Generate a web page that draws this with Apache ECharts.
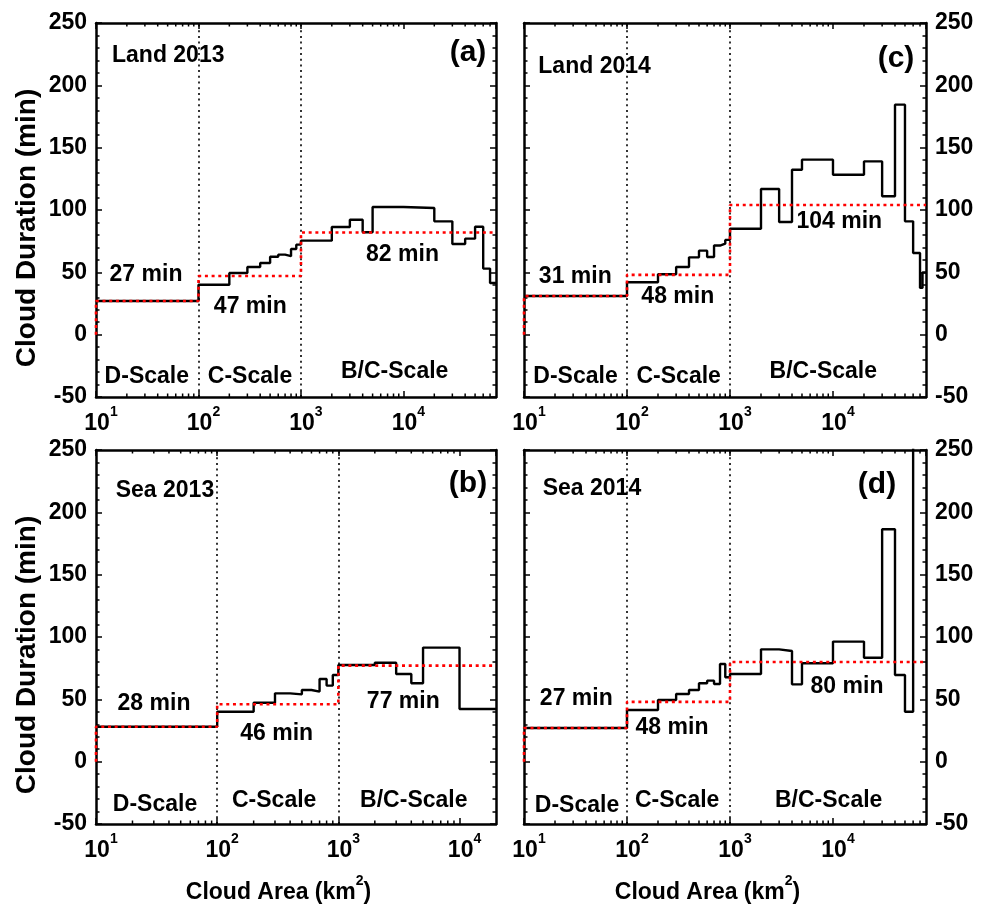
<!DOCTYPE html>
<html><head><meta charset="utf-8">
<script src="https://cdn.jsdelivr.net/npm/echarts@6/dist/echarts.min.js"></script>
<style>html,body{margin:0;padding:0;background:#fff}#c{width:986px;height:908px}</style>
</head><body><div id="c"></div>
<script>
// ---------- data ----------
const panelNames = ['(a)', '(b)', '(c)', '(d)'];
const panelTitles = ['Land 2013', 'Sea 2013', 'Land 2014', 'Sea 2014'];
const xMaxA = 80000, xMaxB = 20000, xMaxC = 80000, xMaxD = 80000;

// histogram bin edges (km^2) and mean cloud duration (min) per bin
const edgesA = [10,100,200,300,400,500,600,700,800,900,1000,2000,3000,4000,5000,10000,20000,30000,40000,50000,60000,70000,80000];
const durA   = [27,40,49.5,54.3,57.5,62.5,64.2,63,68.7,72.2,75.4,86.4,92.2,82.1,102.4,101.6,90.9,72.7,77,86.6,53,41.5];

const edgesB = [10,100,200,300,400,500,600,700,800,900,1000,2000,3000,4000,5000,10000,20000];
const durB   = [28,40.1,47.3,54.8,54,57.5,56.2,66.3,61,69.5,77.6,79.4,70.3,62.9,91.5,42.3];

const edgesC = [10,100,200,300,400,500,600,700,800,900,1000,2000,3000,4000,5000,10000,20000,30000,40000,50000,60000,70000,74000,80000];
const durC   = [31,42,48.5,54.3,62,67.4,62.3,71.5,73,76,85,116.8,90.4,132.3,140.4,128.3,139,111,184.5,90.9,65.5,37.5,50];

const edgesD = [10,100,200,300,400,500,600,700,800,900,1000,2000,3000,4000,5000,10000,20000,30000,40000,50000,60000,80000];
const durD   = [27,41.5,49.5,54.3,57.5,62.9,65,62.3,78.4,67.7,70.3,90.1,88.8,62,78.9,96.3,83.4,186.4,69.5,40.1,300];

// scale boundaries (km^2) and scale-mean durations (D, C, B/C)
const scaleEdges = [10, 100, 1000];
const meanA = [27, 47, 82];
const meanB = [28, 46, 77];
const meanC = [31, 48, 104];
const meanD = [27, 48, 80];
const meanLabelsA = ['27 min','47 min','82 min'];
const meanLabelsB = ['28 min','46 min','77 min'];
const meanLabelsC = ['31 min','48 min','104 min'];
const meanLabelsD = ['27 min','48 min','80 min'];
const scaleNames = ['D-Scale','C-Scale','B/C-Scale'];

const yTicks = [-50, 0, 50, 100, 150, 200, 250];

// ---------- build ----------
const FF = "'Liberation Sans', Arial, sans-serif";
const panels = [
  {edges: edgesA, dur: durA, mean: meanA, xMax: xMaxA, grid: {left:96, top:23, width:400, height:374}, right:false},
  {edges: edgesB, dur: durB, mean: meanB, xMax: xMaxB, grid: {left:96, top:450, width:400, height:374}, right:false},
  {edges: edgesC, dur: durC, mean: meanC, xMax: xMaxC, grid: {left:524, top:23, width:402, height:374}, right:true},
  {edges: edgesD, dur: durD, mean: meanD, xMax: xMaxD, grid: {left:524, top:450, width:402, height:374}, right:true}
];

function histData(edges, vals) {
  const d = [];
  for (let i = 0; i < vals.length; i++) d.push([edges[i], vals[i]]);
  d.push([edges[edges.length - 1], vals[vals.length - 1]]);
  return d;
}
function meanData(mean, xMax) {
  return [[scaleEdges[0], 0], [scaleEdges[1], mean[0]], [scaleEdges[2], mean[1]], [xMax, mean[2]]];
}
function minorTicks(xMax) {
  const t = [];
  for (let p = 10; p < xMax; p *= 10)
    for (let k = 2; k <= 9; k++) { const v = k * p; if (v < xMax) t.push([v, 0]); }
  return t;
}

const axisLineStyle = {show: true, onZero: false, lineStyle: {color: '#000', width: 2.5}};
const labelStyle = {fontSize: 23, fontWeight: 'bold', fontFamily: FF, color: '#000'};

const grids = [], xAxes = [], yAxes = [], series = [];
panels.forEach((p, i) => {
  grids.push(Object.assign({containLabel: false}, p.grid));
  const xCommon = {gridIndex: i, type: 'log', logBase: 10, min: 10, max: p.xMax,
    axisLine: axisLineStyle, splitLine: {show: false},
    axisTick: {show: true, inside: true, length: 6, lineStyle: {color: '#000', width: 1.5}}};
  xAxes.push(Object.assign({}, xCommon, {position: 'bottom',
    axisLabel: {show: true, margin: 8, padding: [0, 0, 0, 10], showMaxLabel: false,
      formatter: v => {
        const e = Math.log10(v), r = Math.round(e);
        if (Math.abs(e - r) > 1e-6) return '';
        return '{b|10}{s|' + r + '}';
      },
      rich: {
        b: {fontSize: 23, fontWeight: 'bold', fontFamily: FF, color: '#000', lineHeight: 30, verticalAlign: 'bottom'},
        s: {fontSize: 14, fontWeight: 'bold', fontFamily: FF, color: '#000', lineHeight: 14, verticalAlign: 'top'}
      }}}));
  xAxes.push(Object.assign({}, xCommon, {position: 'top', axisLabel: {show: false}}));
  const yCommon = {gridIndex: i, type: 'value', min: yTicks[0], max: yTicks[yTicks.length - 1], interval: 50,
    axisLine: axisLineStyle, splitLine: {show: false},
    axisTick: {show: true, inside: true, length: 6, lineStyle: {color: '#000', width: 1.5}},
    minorTick: {show: true, splitNumber: 5, length: 3.5, lineStyle: {color: '#000', width: 1.5}},
    minorSplitLine: {show: false}};
  yAxes.push(Object.assign({}, yCommon, {position: 'left',
    axisLabel: Object.assign({show: !p.right, margin: 9}, labelStyle)}));
  yAxes.push(Object.assign({}, yCommon, {position: 'right',
    axisLabel: Object.assign({show: p.right, margin: 9}, labelStyle)}));

  series.push({type: 'custom', xAxisIndex: 2 * i, yAxisIndex: 2 * i, silent: true, clip: false,
    data: minorTicks(p.xMax),
    renderItem: (params, api) => {
      const v = api.value(0);
      const b = api.coord([v, yTicks[0]]), t = api.coord([v, yTicks[yTicks.length - 1]]);
      return {type: 'group', children: [
        {type: 'line', shape: {x1: b[0], y1: b[1], x2: b[0], y2: b[1] - 3.5}, style: {stroke: '#000', lineWidth: 1.5}},
        {type: 'line', shape: {x1: t[0], y1: t[1], x2: t[0], y2: t[1] + 3.5}, style: {stroke: '#000', lineWidth: 1.5}}
      ]};
    }});
  series.push({type: 'line', xAxisIndex: 2 * i, yAxisIndex: 2 * i, step: 'end', symbol: 'none', z: 3,
    data: histData(p.edges, p.dur), lineStyle: {color: '#000', width: 2.4}, clip: true,
    markLine: {silent: true, symbol: ['none', 'none'], label: {show: false}, z: 1,
      lineStyle: {color: '#000', width: 1.6, type: [2, 3.7]},
      data: [{xAxis: scaleEdges[1]}, {xAxis: scaleEdges[2]}]}});
  series.push({type: 'line', xAxisIndex: 2 * i, yAxisIndex: 2 * i, step: 'start', symbol: 'none', z: 4,
    data: meanData(p.mean, p.xMax), lineStyle: {color: '#ff0000', width: 2.6, type: [3, 3.7]}, clip: true});
});

// ---------- text annotations ----------
function T(x, baseline, text, size, align) {
  size = size || 23;
  return {type: 'text', x: x, y: baseline - 0.35 * size, z: 10,
    style: {text: text, x: 0, y: 0, align: align || 'center', verticalAlign: 'middle',
      font: 'bold ' + size + 'px ' + FF, fill: '#000'}};
}
function P(x, cy, text) {
  return {type: 'text', x: x, y: cy, z: 10,
    style: {text: text, x: 0, y: 0, align: 'center', verticalAlign: 'middle',
      font: 'bold 30px ' + FF, fill: '#000'}};
}
const graphics = [
  // (a)
  T(112, 64, panelTitles[0], 23, 'left'), P(468, 53, panelNames[0]),
  T(146, 283, meanLabelsA[0]), T(250.3, 315, meanLabelsA[1]), T(402.5, 262.7, meanLabelsA[2]),
  T(146.8, 385, scaleNames[0]), T(250, 385, scaleNames[1]), T(394.7, 380, scaleNames[2]),
  // (c)
  T(538.3, 75, panelTitles[2], 23, 'left'), P(896, 59, panelNames[2]),
  T(575.3, 285, meanLabelsC[0]), T(677.8, 305, meanLabelsC[1]), T(839.3, 230, meanLabelsC[2]),
  T(575.5, 385, scaleNames[0]), T(678.7, 385, scaleNames[1]), T(823.3, 380, scaleNames[2]),
  // (b)
  T(115.7, 498.3, panelTitles[1], 23, 'left'), P(468, 484, panelNames[1]),
  T(154, 711.7, meanLabelsB[0]), T(276.7, 741.7, meanLabelsB[1]), T(403.3, 709.3, meanLabelsB[2]),
  T(155, 812.7, scaleNames[0]), T(274.2, 808.3, scaleNames[1]), T(413.8, 808.3, scaleNames[2]),
  // (d)
  T(542.7, 496.7, panelTitles[3], 23, 'left'), P(877, 485, panelNames[3]),
  T(576.3, 706.7, meanLabelsD[0]), T(672, 736, meanLabelsD[1]), T(847, 695, meanLabelsD[2]),
  T(577, 813.3, scaleNames[0]), T(677.2, 808.3, scaleNames[1]), T(828.7, 808.3, scaleNames[2])
];
// axis titles
[228, 655].forEach(cy => graphics.push({type: 'text', x: 27, y: cy, rotation: Math.PI / 2, z: 10,
  style: {text: 'Cloud Duration (min)', x: 0, y: 0, align: 'center', verticalAlign: 'middle',
    font: 'bold 28px ' + FF, fill: '#000'}}));
[278.5, 707.5].forEach(cx => graphics.push({type: 'text', x: cx, y: 889, z: 10,
  style: {text: '{n|Cloud Area (km}{s|2}{n|)}', x: 0, y: 0, align: 'center', verticalAlign: 'middle',
    rich: {
      n: {fontSize: 23, fontWeight: 'bold', fontFamily: FF, fill: '#000', color: '#000', lineHeight: 30, verticalAlign: 'bottom'},
      s: {fontSize: 14, fontWeight: 'bold', fontFamily: FF, fill: '#000', color: '#000', lineHeight: 14, verticalAlign: 'top'}
    }}}));

const chart = echarts.init(document.getElementById('c'), null, {renderer: 'canvas'});
chart.setOption({
  animation: false,
  backgroundColor: '#fff',
  grid: grids, xAxis: xAxes, yAxis: yAxes, series: series,
  graphic: graphics
});
</script></body></html>
